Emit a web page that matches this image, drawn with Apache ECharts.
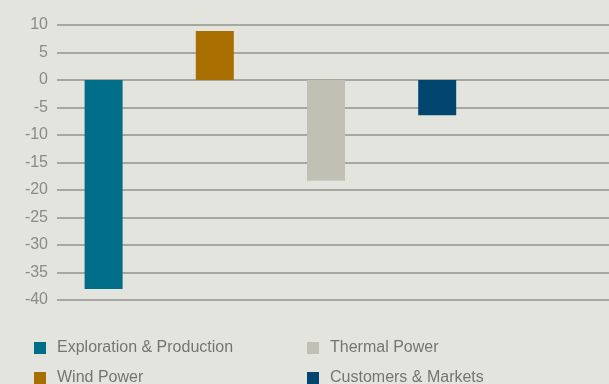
<!DOCTYPE html>
<html><head><meta charset="utf-8">
<script src="https://cdn.jsdelivr.net/npm/echarts@6/dist/echarts.min.js"></script>
<style>html,body{margin:0;padding:0;background:#e4e4df}#c{width:609px;height:384px}</style>
</head><body><div id="c"></div>
<script>
const categories = ['Exploration & Production', 'Wind Power', 'Thermal Power', 'Customers & Markets'];
const values = [-38.0, 8.9, -18.3, -6.4];
const colors = ['#006e88', '#a86f00', '#c0c1b4', '#00466e'];
const yMin = -40, yMax = 10, yStep = 5;

const chart = echarts.init(document.getElementById('c'));
const font = 'Liberation Sans';
const series = categories.map((name, i) => ({
  name: name, type: 'bar', stack: 's', xAxisIndex: 1, yAxisIndex: 1,
  barWidth: 38, itemStyle: {color: colors[i]},
  data: categories.map((c, j) => j === i ? values[i] : '-').concat(['-'])
}));
const legendPos = [[34, 340], [34, 370], [307, 340], [307, 370]];
chart.setOption({
  backgroundColor: '#e4e4df',
  animation: false,
  grid: [
    {left: 57, right: 0, top: 25, bottom: 84},
    {left: 48, right: 5, top: 25, bottom: 84}
  ],
  xAxis: [
    {gridIndex: 0, type: 'category', data: [''], show: false},
    {gridIndex: 1, type: 'category', data: categories.concat(['']), show: false}
  ],
  yAxis: [
    {gridIndex: 0, type: 'value', min: yMin, max: yMax, interval: yStep,
     axisLine: {show: false}, axisTick: {show: false},
     axisLabel: {color: '#8a8a86', fontFamily: font, fontSize: 16, margin: 9},
     splitLine: {lineStyle: {color: '#93938e', width: 1.5}}},
    {gridIndex: 1, type: 'value', min: yMin, max: yMax, interval: yStep, show: false, splitLine: {show: false}}
  ],
  legend: categories.map((name, i) => ({
    data: [name], left: legendPos[i][0], top: legendPos[i][1], padding: 0,
    icon: 'rect', itemWidth: 12, itemHeight: 12,
    textStyle: {color: '#747472', fontFamily: font, fontSize: 16, padding: [0, 0, 0, 6]}
  })),
  series: series
});
</script></body></html>
